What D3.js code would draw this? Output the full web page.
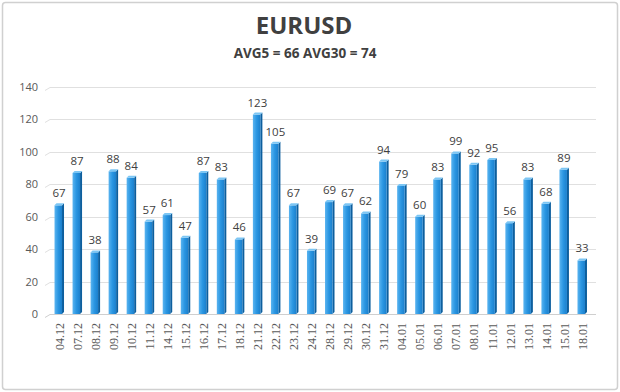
<!DOCTYPE html>
<html><head><meta charset="utf-8">
<script src="https://cdn.jsdelivr.net/npm/d3@7"></script>
<style>body{margin:0;background:#fff}svg{display:block}</style>
</head><body>
<svg id="c" width="620" height="392"></svg>
<script>
const categories = ["04.12","07.12","08.12","09.12","10.12","11.12","14.12","15.12","16.12","17.12","18.12","21.12","22.12","23.12","24.12","28.12","29.12","30.12","31.12","04.01","05.01","06.01","07.01","08.01","11.01","12.01","13.01","14.01","15.01","18.01"];
const values = [67,87,38,88,84,57,61,47,87,83,46,123,105,67,39,69,67,62,94,79,60,83,99,92,95,56,83,68,89,33];
const yTicks = [0,20,40,60,80,100,120,140];
const title = "EURUSD";
const subtitle = "AVG5 = 66 AVG30 = 74";

const svg = d3.select("#c");
const W = 620, H = 392;
// frame
svg.append("rect").attr("x",2.5).attr("y",2.5).attr("width",W-5).attr("height",H-5)
  .attr("rx",3).attr("fill","#fff").attr("stroke","#d0d0d0").attr("stroke-width",1.5);

const defs = svg.append("defs");
const g1 = defs.append("linearGradient").attr("id","front").attr("x1","0").attr("x2","1");
g1.append("stop").attr("offset","0").attr("stop-color","#5ab4f0");
g1.append("stop").attr("offset","0.5").attr("stop-color","#2a96e2");
g1.append("stop").attr("offset","1").attr("stop-color","#1b7fcc");

const x = d3.scalePoint().domain(categories).range([50,591]).padding(0.5);
const y = d3.scaleLinear().domain([0,140]).range([314,87]);

// gridlines with slight 3D slant
const grid = svg.append("g");
yTicks.forEach(t => {
  const yy = Math.round(y(t)) + 0.5;
  grid.append("path").attr("d", `M45,${yy+3}L50,${yy}L596,${yy}`)
    .attr("fill","none").attr("stroke", t===0 ? "#cfcfcf" : "#e0e0e0").attr("stroke-width",1);
});

// y axis labels
const yAxis = d3.axisLeft(y).tickValues(yTicks).tickSize(0).tickPadding(0);
const ya = svg.append("g").attr("transform","translate(38,0)").call(yAxis);
ya.select(".domain").remove();
ya.selectAll("text").attr("font-family","'Open Sans', sans-serif").attr("font-size",11).attr("fill","#595959");

// bars
const fw = 7.5, sw = 2, dy = 2;
const bars = svg.append("g").selectAll("g").data(values).join("g");
bars.each(function(v,i){
  const g = d3.select(this);
  const cx = x(categories[i]);
  const x0 = cx - 4.5, x1 = x0 + fw;
  const top = y(v), bot = y(0);
  g.append("path").attr("d",`M${x1},${bot}L${x1+sw},${bot-dy}L${x1+sw},${top-dy}L${x1},${top}Z`).attr("fill","#0d5f9e");
  g.append("rect").attr("x",x0).attr("y",top).attr("width",fw).attr("height",bot-top).attr("fill","url(#front)");
  g.append("path").attr("d",`M${x0},${top}L${x0+sw},${top-dy}L${x1+sw},${top-dy}L${x1},${top}Z`).attr("fill","#7cc6f4");
  g.append("text").attr("x",cx).attr("y",top-8).attr("text-anchor","middle")
    .attr("font-family","'Open Sans', sans-serif").attr("font-size",11.5).attr("fill","#404040").text(v);
});

// x axis labels
const xAxis = d3.axisBottom(x).tickSize(0).tickPadding(0);
const xa = svg.append("g").call(xAxis);
xa.select(".domain").remove();
xa.selectAll(".tick text").attr("transform", `translate(0,323) rotate(-90)`)
  .attr("x",0).attr("y",0).attr("dy","0.35em").attr("text-anchor","end")
  .attr("font-family","'Liberation Serif', serif").attr("font-size",12).attr("fill","#595959");

// titles
svg.append("text").attr("x",304).attr("y",34).attr("text-anchor","middle")
  .attr("font-family","'Open Sans', sans-serif").attr("font-weight","bold").attr("font-size",24).attr("fill","#404040").text(title);
svg.append("text").attr("x",305).attr("y",58).attr("text-anchor","middle")
  .attr("font-family","'Open Sans', sans-serif").attr("font-weight","bold").attr("font-size",13.5).attr("fill","#404040").text(subtitle);
</script>
</body></html>
